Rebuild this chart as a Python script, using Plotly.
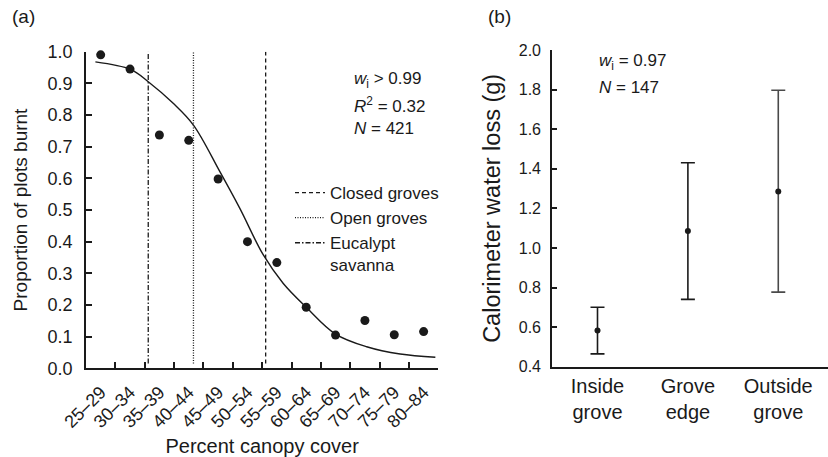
import plotly.graph_objects as go

# ---------------- data: panel (a) ----------------
canopy_bins = ["25–29", "30–34", "35–39", "40–44", "45–49", "50–54",
               "55–59", "60–64", "65–69", "70–74", "75–79", "80–84"]
bin_lower = [25, 30, 35, 40, 45, 50, 55, 60, 65, 70, 75, 80]
bin_width = 5
prop_burnt = [0.99, 0.945, 0.737, 0.72, 0.598, 0.40, 0.334, 0.193, 0.105, 0.151, 0.106, 0.116]

# fitted curve (percent canopy cover, proportion burnt)
fit_pct = [26.6, 32.6, 35.6, 39.9, 43.3, 47.8, 51.2, 55.2, 58.6, 62.5, 67.5, 72.8, 78.5, 84.5]
fit_prop = [0.968, 0.944, 0.905, 0.836, 0.768, 0.621, 0.505, 0.358, 0.268, 0.193, 0.108, 0.068, 0.045, 0.035]

class_names = ["Closed groves", "Open groves", "Eucalypt<br>savanna"]
class_threshold = [55.6, 43.3, 35.6]

# ---------------- data: panel (b) ----------------
locations = ["Inside<br>grove", "Grove<br>edge", "Outside<br>grove"]
water_loss = [0.583, 1.085, 1.285]
water_upper = [0.70, 1.43, 1.797]
water_lower = [0.465, 0.74, 0.777]

FONT = "Liberation Sans, Arial, sans-serif"
INK = "#1a1a1a"

fig = go.Figure()

bin_centre = [b + bin_width / 2 for b in bin_lower]
bin_edges = [b + bin_width for b in bin_lower]

dash_styles = ["4px,3px", "1px,1.5px", "5px,2px,1.5px,2px"]
for name, thr, dsh in zip(class_names, class_threshold, dash_styles):
    fig.add_trace(go.Scatter(
        x=[thr, thr], y=[0.015, 1.0], mode="lines", name=name,
        line=dict(color=INK, width=1.3, dash=dsh),
        xaxis="x", yaxis="y", hoverinfo="skip"))

fig.add_trace(go.Scatter(
    x=fit_pct, y=fit_prop, mode="lines", line=dict(color=INK, width=1.4, shape="spline", smoothing=1.0),
    showlegend=False, xaxis="x", yaxis="y"))

fig.add_trace(go.Scatter(
    x=bin_centre, y=prop_burnt, mode="markers", cliponaxis=False,
    marker=dict(color=INK, size=9), showlegend=False, xaxis="x", yaxis="y"))

# invisible trace carrying the category-label axis
fig.add_trace(go.Scatter(
    x=[bin_lower[0], bin_edges[-1]], y=[0, 0], mode="lines", line=dict(width=0),
    showlegend=False, hoverinfo="skip", xaxis="x3", yaxis="y"))

# panel (b)
err_plus = [u - m for u, m in zip(water_upper, water_loss)]
err_minus = [m - l for m, l in zip(water_loss, water_lower)]
bar_colors = [INK, INK, "#4a4a4a"]
for i in range(len(locations)):
    fig.add_trace(go.Scatter(
        x=[locations[i]], y=[water_loss[i]], mode="markers",
        marker=dict(color=INK, size=6),
        error_y=dict(type="data", symmetric=False, array=[err_plus[i]], arrayminus=[err_minus[i]],
                     color=bar_colors[i], thickness=1.6, width=7),
        showlegend=False, xaxis="x2", yaxis="y2"))

W, H = 828, 457
def px_x(p):
    return p / W
def px_y(p):
    return (H - p) / H

x_dom = [px_x(86), px_x(438.3)]

fig.update_layout(
    width=W, height=H, margin=dict(l=0, r=0, t=0, b=0, autoexpand=False),
    paper_bgcolor="white", plot_bgcolor="white",
    font=dict(family=FONT, color=INK),
    xaxis=dict(
        domain=x_dom, range=[25, 85], anchor="y", automargin=False,
        tickmode="array", tickvals=bin_edges, ticks="inside", ticklen=6, tickwidth=1.5,
        tickcolor=INK, showticklabels=False,
        showline=True, linecolor=INK, linewidth=1.8, showgrid=False, zeroline=False,
    ),
    xaxis3=dict(
        domain=x_dom, range=[25, 85], anchor="y", overlaying="x", side="bottom", automargin=False,
        tickmode="array", tickvals=bin_centre, ticktext=canopy_bins,
        tickangle=-45, ticks="", tickfont=dict(family=FONT, size=18, color=INK),
        ticklabelstandoff=9, showline=False, showgrid=False, zeroline=False,
        title=dict(text="Percent canopy cover", font=dict(family=FONT, size=20, color=INK), standoff=10),
    ),
    yaxis=dict(
        domain=[px_y(368.3), px_y(51.7)], range=[0, 1.0], anchor="x", automargin=False,
        tickmode="array", tickvals=[i / 10 for i in range(11)],
        ticktext=[f"{i/10:.1f}" for i in range(11)],
        ticks="inside", ticklen=6, tickwidth=1.5, tickcolor=INK,
        tickfont=dict(family=FONT, size=18, color=INK),
        ticklabelstandoff=8,
        showline=True, linecolor=INK, linewidth=1.8, showgrid=False, zeroline=False,
        title=dict(text="Proportion of plots burnt", font=dict(family=FONT, size=19, color=INK), standoff=15),
    ),
    xaxis2=dict(
        domain=[px_x(552.3), 1.0], range=[-0.5, 2.55], anchor="y2", type="category", automargin=False,
        ticks="", tickfont=dict(family=FONT, size=20, color=INK),
        showline=True, linecolor=INK, linewidth=2.2, showgrid=False, zeroline=False,
    ),
    yaxis2=dict(
        domain=[px_y(366.7), px_y(50)], range=[0.4, 2.0], anchor="x2", automargin=False,
        tickmode="array", tickvals=[0.4 + 0.2 * i for i in range(9)],
        ticktext=[f"{0.4 + 0.2 * i:.1f}" for i in range(9)],
        ticks="inside", ticklen=5, tickwidth=2, tickcolor=INK,
        tickfont=dict(family=FONT, size=16, color=INK), ticklabelstandoff=6,
        showline=True, linecolor=INK, linewidth=2.2, showgrid=False, zeroline=False,
        title=dict(text="Calorimeter water loss (g)", font=dict(family=FONT, size=23.5, color=INK), standoff=12),
    ),
    legend=dict(x=px_x(290), y=px_y(175), xanchor="left", yanchor="top",
                font=dict(family=FONT, size=17, color=INK), bgcolor="rgba(0,0,0,0)",
                valign="top", tracegroupgap=0, itemwidth=30),
    showlegend=True,
)

for txt, x, y in [("(a)", 10, 17), ("(b)", 486, 17)]:
    fig.add_annotation(text=txt, x=px_x(x), y=px_y(y), xref="paper", yref="paper",
                       xanchor="left", yanchor="middle", showarrow=False,
                       font=dict(family=FONT, size=19, color=INK))

ann_font = dict(family=FONT, size=17, color=INK)
stats = [
    ("<i>w</i><sub>i</sub> > 0.99", 352, 80),
    ("<i>R</i><sup>2</sup> = 0.32", 352, 105),
    ("<i>N</i> = 421", 352, 128),
    ("<i>w</i><sub>i</sub> = 0.97", 597, 62),
    ("<i>N</i> = 147", 597, 87),
]
for txt, x, y in stats:
    fig.add_annotation(text=txt, x=px_x(x), y=px_y(y), xref="paper", yref="paper",
                       xanchor="left", yanchor="middle", showarrow=False, font=ann_font)

fig.write_html("out.html")
